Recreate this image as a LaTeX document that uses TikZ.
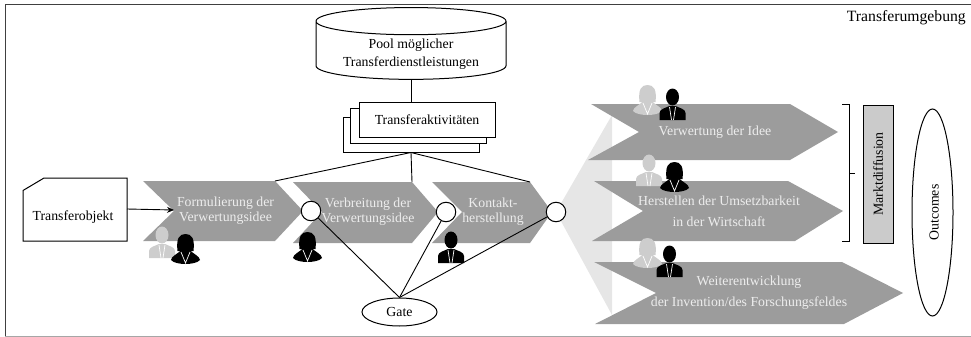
\documentclass[tikz,border=0pt]{standalone}
\usepackage{fontspec}
\setmainfont{Liberation Serif}
\usetikzlibrary{arrows.meta, shapes.geometric}

\definecolor{chevgray}{HTML}{9C9C9C}
\definecolor{fangray}{HTML}{E6E6E6}
\definecolor{boxgray}{HTML}{CBCBCB}
\definecolor{icongray}{HTML}{CDCDCD}
\definecolor{chevtext}{HTML}{EDEDED}

\tikzset{
  chev/.style={fill=chevgray},
  chevlabel/.style={text=chevtext, align=center, inner sep=0pt},
  whitebox/.style={draw, fill=white, line width=1pt, minimum width=136pt, minimum height=35pt, inner sep=0pt},
  gatecircle/.style={circle, draw, fill=white, line width=1pt, minimum size=19.5pt, inner sep=0pt},
  conn/.style={line width=0.9pt},
  man/.pic={
    \path[pic actions] (0,8) ellipse [x radius=6.5, y radius=8.5];
    \path[pic actions] (-13,31) -- (-13,24) .. controls (-13,20) and (-7,19) .. (-3,17)
      -- (3,17) .. controls (7,19) and (13,20) .. (13,24) -- (13,31) -- cycle;
    \draw[white, line width=0.7pt] (-3,18) -- (-1,31) (3,18) -- (1,31);
  },
  woman/.pic={
    \path[pic actions] (-8,17) .. controls (-9.5,4) and (-6,0) .. (0,0)
      .. controls (6,0) and (9.5,4) .. (8,17) -- cycle;
    \path[pic actions] (-14.5,26) .. controls (-14,22) and (-8,20) .. (-4,16) -- (4,16)
      .. controls (8,20) and (14,22) .. (14.5,26)
      .. controls (12,29) and (5,30) .. (0,30) .. controls (-5,30) and (-12,29) .. (-14.5,26) -- cycle;
    \draw[white, line width=0.7pt] (-4.5,18) -- (0,29) -- (4.5,18);
  },
}

\begin{document}
\begin{tikzpicture}[x=1pt, y=-1pt, font=\fontsize{13.8}{15}\selectfont]
\useasboundingbox (0,0) rectangle (971,337);

% frame
\draw[line width=1pt, black!75] (5,336) -- (5,5) -- (971,5);
\draw[line width=1pt, black!35] (5,336.3) -- (971,336.3);
\node[anchor=east, inner sep=0pt, font=\fontsize{15.7}{17}\selectfont] (umgebung) at (966,18) {Transferumgebung};

% fan behind the outcome arrows
\fill[fangray] (556,212) -- (612,115) -- (612,315) -- cycle;

% process chevrons
\fill[chev] (143,181) -- (275,181) -- (303,211) -- (275,241) -- (143,241) -- (174,211) -- cycle;
\fill[chev] (293,182) -- (412,182) -- (438,212) -- (412,243) -- (293,243) -- (322,212) -- cycle;
\fill[chev] (432,182) -- (530,182) -- (552,212) -- (530,243) -- (432,243) -- (462,212) -- cycle;

% outcome chevrons
\fill[chev] (591,104) -- (790,104) -- (838,132) -- (790,160) -- (588,160) -- (639,132) -- cycle;
\fill[chev] (594,181) -- (788,181) -- (843,211) -- (795,241) -- (592,241) -- (643,211) -- cycle;
\fill[chev] (594,262) -- (842,262) -- (903,293) -- (844,324) -- (595,324) -- (656,293) -- cycle;

\coordinate (chev1-top) at (275,181);
\coordinate (chev2-top) at (412,182);
\coordinate (chev3-top) at (530,182);
\coordinate (chev1-notch) at (174,210);

% chevron labels
\node[chevlabel] (formulierung) at (225.5,211) {Formulierung der\\Verwertungsidee};
\node[chevlabel] (verbreitung) at (368,212) {Verbreitung der\\Verwertungsidee};
\node[chevlabel] (kontakt) at (493,212) {Kontakt-\\herstellung};
\node[chevlabel] (verwertung) at (715,132) {Verwertung der Idee};
\node[chevlabel] (herstellen) at (719,211) {Herstellen der Umsetzbarkeit\\[6pt]in der Wirtschaft};
\node[chevlabel] (weiter) at (749,293) {Weiterentwicklung\\[6pt]der Invention/des Forschungsfeldes};

% pool and activities
\node[cylinder, shape border rotate=90, aspect=0.2, draw, fill=white, line width=1pt,
  minimum width=190pt, minimum height=60pt, inner sep=0pt, align=center] (pool) at (411,50.5)
  {\phantom{Pool möglicher}\\[3pt]\phantom{Transferdienstleistungen}};
\node[align=center, inner sep=0pt] (pooltext) at (411,54) {Pool möglicher\\[3pt]Transferdienstleistungen};
\node[whitebox] (akt3) at (411,134.5) {};
\node[whitebox] (akt2) at (418,126) {};
\node[whitebox] (akt1) at (427,119.5) {Transferaktivitäten};
\draw[conn] (pool.south) -- (akt1.north -| pool.south);
\draw[conn] (akt3.south) -- (chev1-top);
\draw[conn] (akt3.south) -- (chev2-top);
\draw[conn] (akt3.south) -- (chev3-top);

% transfer object
\draw[fill=white, line width=1pt] (23,190.5) coordinate (objekt-corner) -- (44,178) -- (127,178)
  -- (127,209) coordinate (objekt-east) -- (127,241) -- (23,241) -- cycle;
\node[inner sep=0pt] (objekt) at (73,217) {Transferobjekt};
\draw[conn, -{Stealth[length=7pt, width=6pt]}] (objekt-east) -- (chev1-notch);

% gate
\node[ellipse, draw, fill=white, line width=1pt, minimum width=75pt, minimum height=28pt, inner sep=0pt] (gate) at (399.5,312) {Gate};
\node[gatecircle] (gc1) at (311,211) {};
\node[gatecircle] (gc2) at (446,212) {};
\node[gatecircle] (gc3) at (556,212) {};
\draw[conn] (gc1) -- (gate.north);
\draw[conn] (gc2) -- (gate.north);
\draw[conn] (gc3) -- (gate.north);

% right hand side
\draw[line width=1pt] (842,104) -- (849,104) -- (849,241) -- (842,241) (849,173) -- (855,173);
\node[draw, fill=boxgray, line width=1pt, minimum width=30pt, minimum height=138pt, inner sep=0pt] (marktbox) at (878,174) {};
\node[rotate=90, inner sep=0pt] (markt) at (878,174) {Marktdiffusion};
\node[ellipse, draw, fill=white, line width=1pt, minimum width=41pt, minimum height=207pt, inner sep=0pt] (outcomes) at (932.5,212.5) {};
\node[rotate=90, inner sep=0pt] (outcomestext) at (934,212.5) {Outcomes};

% people
\pic[fill=icongray] at (162,227) {man};
\pic[fill=black] at (185.5,234) {woman};
\pic[fill=black] at (307.5,232) {woman};
\pic[fill=black] at (451,232) {man};
\pic[fill=icongray] at (647.5,85) {woman};
\pic[fill=black] at (672.5,89) {man};
\pic[fill=icongray] at (649,155) {man};
\pic[fill=black] at (674.5,162) {woman};
\pic[fill=icongray] at (647.5,238) {woman};
\pic[fill=black] at (669.5,246) {man};

\end{tikzpicture}
\end{document}
